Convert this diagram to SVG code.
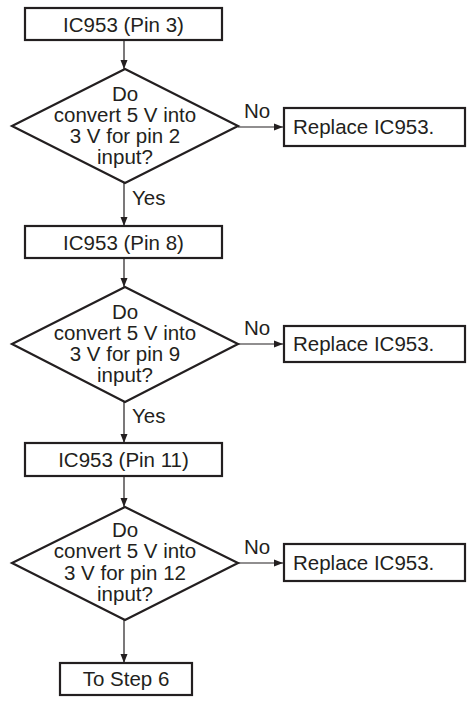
<svg xmlns="http://www.w3.org/2000/svg" width="467" height="703" viewBox="0 0 467 703">
<defs>
<marker id="ah" markerWidth="10" markerHeight="8" refX="9" refY="4" orient="auto" markerUnits="userSpaceOnUse">
<path d="M0,0.5 L9,4 L0,7.5 Z" fill="#231f20"/>
</marker>
<style>
.box{fill:#fff;stroke:#231f20;stroke-width:2.2}
.dia{fill:#fff;stroke:#231f20;stroke-width:2.2}
.t{font-family:"Liberation Sans",Arial,sans-serif;font-size:20.5px;fill:#231f20;text-anchor:middle}
.l{font-family:"Liberation Sans",Arial,sans-serif;font-size:20.5px;fill:#231f20}
.c{stroke:#231f20;stroke-width:1.2;fill:none;marker-end:url(#ah)}
</style>
</defs>
<rect width="467" height="703" fill="#fff"/>
<g id="connectors">
<line class="c" x1="124" y1="40" x2="124" y2="69"/>
<line class="c" x1="124" y1="183" x2="124" y2="226"/>
<line class="c" x1="238" y1="127" x2="283" y2="127"/>
<line class="c" x1="124" y1="258" x2="124" y2="287"/>
<line class="c" x1="124" y1="402" x2="124" y2="443"/>
<line class="c" x1="238" y1="344" x2="283" y2="344"/>
<line class="c" x1="124" y1="476" x2="124" y2="507"/>
<line class="c" x1="124" y1="620" x2="124" y2="663"/>
<line class="c" x1="238" y1="563" x2="283" y2="563"/>
<text class="l" x="244" y="118">No</text>
<text class="l" x="132" y="205">Yes</text>
<text class="l" x="244" y="335">No</text>
<text class="l" x="132" y="423">Yes</text>
<text class="l" x="244" y="554">No</text>
</g>
<g id="box1"><rect class="box" x="25" y="8" width="197" height="32"/><text class="t" x="123.5" y="31.5">IC953 (Pin 3)</text></g>
<g id="dec1"><polygon class="dia" points="125,69 238,126 125,183 12,126"/>
<text class="t" x="125" y="100.5">Do</text><text class="t" x="125" y="121.5">convert 5 V into</text><text class="t" x="125" y="142.5">3 V for pin 2</text><text class="t" x="125" y="163.5">input?</text></g>
<g id="rep1"><rect class="box" x="284" y="108" width="181" height="38"/><text class="l" x="293" y="134">Replace IC953.</text></g>
<g id="box2"><rect class="box" x="25" y="226" width="197" height="32"/><text class="t" x="123.5" y="249.5">IC953 (Pin 8)</text></g>
<g id="dec2"><polygon class="dia" points="125,287 238,344 125,402 12,344"/>
<text class="t" x="125" y="318.5">Do</text><text class="t" x="125" y="339.5">convert 5 V into</text><text class="t" x="125" y="360.5">3 V for pin 9</text><text class="t" x="125" y="381.5">input?</text></g>
<g id="rep2"><rect class="box" x="284" y="326" width="181" height="36"/><text class="l" x="293" y="351">Replace IC953.</text></g>
<g id="box3"><rect class="box" x="25" y="443" width="197" height="33"/><text class="t" x="123.5" y="467">IC953 (Pin 11)</text></g>
<g id="dec3"><polygon class="dia" points="125,507 238,563 125,620 12,563"/>
<text class="t" x="125" y="537">Do</text><text class="t" x="125" y="558">convert 5 V into</text><text class="t" x="125" y="580">3 V for pin 12</text><text class="t" x="125" y="601">input?</text></g>
<g id="rep3"><rect class="box" x="284" y="544" width="181" height="37"/><text class="l" x="293" y="570">Replace IC953.</text></g>
<g id="end"><rect class="box" x="60" y="663" width="132" height="32"/><text class="t" x="126" y="686">To Step 6</text></g>
</svg>
